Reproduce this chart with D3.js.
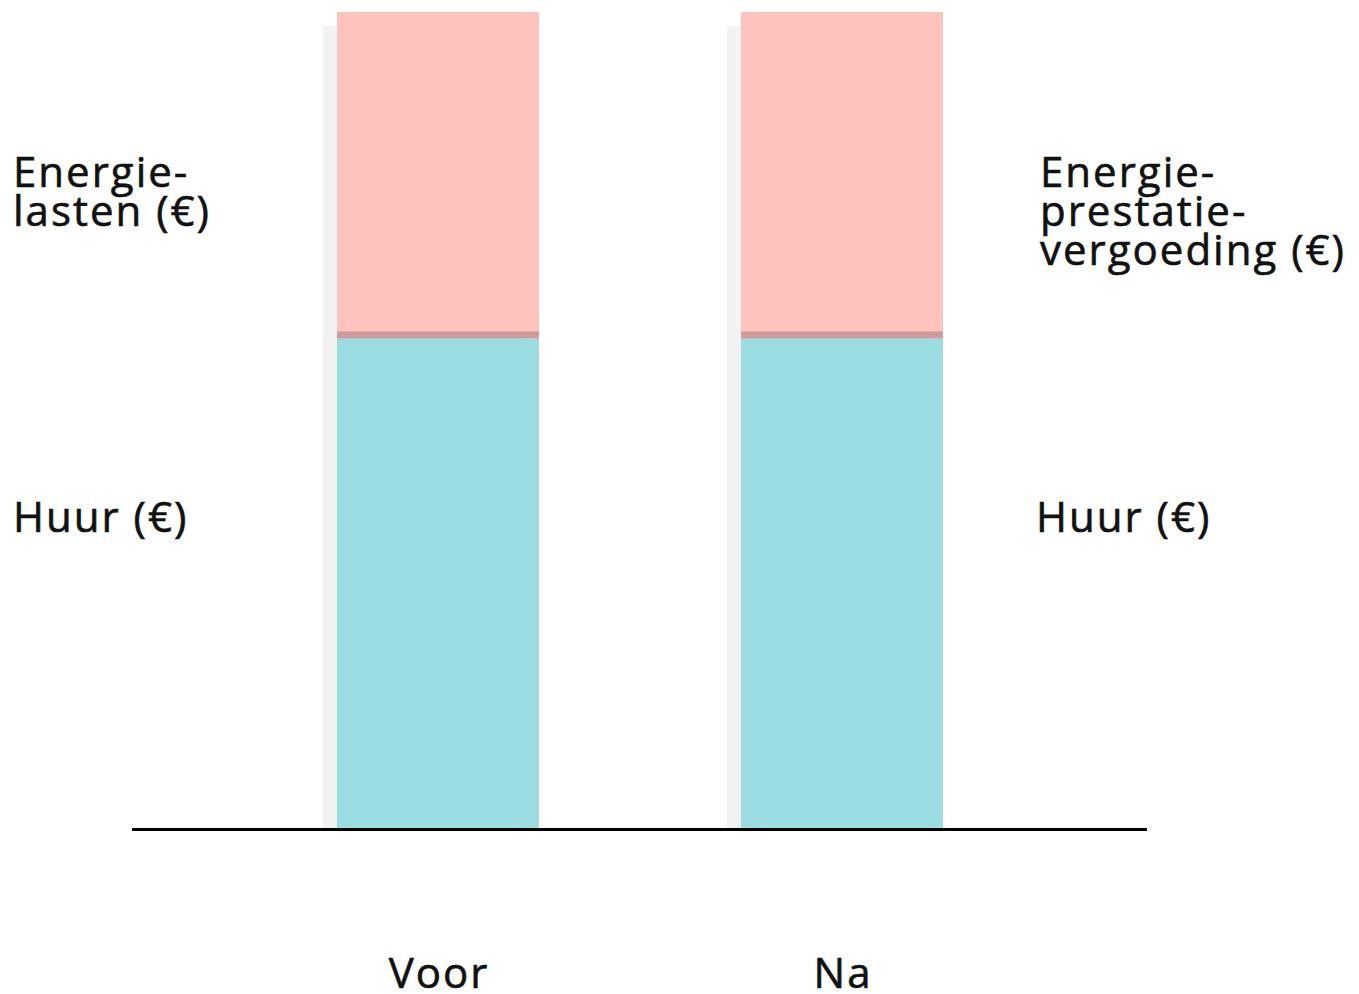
<!DOCTYPE html>
<html>
<head>
<meta charset="utf-8">
<script src="https://cdn.jsdelivr.net/npm/d3@7"></script>
<style>
  html, body { margin: 0; padding: 0; background: #fff; }
  svg { display: block; }
  text { font-family: "Open Sans", Lato, sans-serif; fill: #111; stroke: #111; stroke-width: 0.6px; letter-spacing: 2px; }
</style>
</head>
<body>
<div id="chart"></div>
<script>
// stacked bars: rent below, energy on top
const categories = ['Voor', 'Na'];
const huur = [60, 60];
const energie = [40, 40];
const leftLabels = [['Energie-', 'lasten (€)'], ['Huur (€)']];
const rightLabels = [['Energie-', 'prestatie-', 'vergoeding (€)'], ['Huur (€)']];

const W = 1359, H = 994;
const svg = d3.select('#chart').append('svg').attr('width', W).attr('height', H);

// bar centres and width
const xPos = d3.scalePoint().domain(categories).range([438, 842]);
const barW = 202;
const y = d3.scaleLinear().domain([0, 100]).range([828, 12]);

const data = categories.map((c, i) => ({ cat: c, huur: huur[i], energie: energie[i] }));

const bar = svg.append('g').selectAll('g.bar').data(data).join('g').attr('class', 'bar')
  .attr('transform', d => 'translate(' + (xPos(d.cat) - barW / 2) + ',0)');

// soft shadow behind each bar
bar.append('rect')
  .attr('x', -14).attr('y', d => y(d.huur + d.energie) + 14)
  .attr('width', barW).attr('height', d => y(0) - y(d.huur + d.energie) - 14)
  .attr('fill', '#f2f2f2');

bar.append('rect')
  .attr('x', 0).attr('y', d => y(d.huur))
  .attr('width', barW).attr('height', d => y(0) - y(d.huur))
  .attr('fill', '#9cdde2');

bar.append('rect')
  .attr('x', 0).attr('y', d => y(d.huur + d.energie))
  .attr('width', barW).attr('height', d => y(d.huur) - y(d.huur + d.energie))
  .attr('fill', '#fec2bf');

// darker seam where the two segments meet
bar.append('rect')
  .attr('x', 0).attr('y', d => y(d.huur) - 7)
  .attr('width', barW).attr('height', 7)
  .attr('fill', '#cc9b9b');

// baseline
svg.append('line')
  .attr('x1', 132).attr('x2', 1147)
  .attr('y1', y(0) + 1.5).attr('y2', y(0) + 1.5)
  .attr('stroke', '#000').attr('stroke-width', 3);

// category labels
svg.selectAll('text.cat').data(categories).join('text').attr('class', 'cat')
  .attr('x', d => xPos(d) + 1).attr('y', 988)
  .attr('text-anchor', 'middle').style('font-size', '42px')
  .text(d => d);

function block(lines, xx, yy) {
  const t = svg.append('text').attr('x', xx).attr('y', yy).style('font-size', '42px');
  lines.forEach((l, i) => t.append('tspan').attr('x', xx).attr('dy', i ? 39 : 0).text(l));
}
block(leftLabels[0], 13, 187);
block(leftLabels[1], 13, 532);
block(rightLabels[0], 1040, 187);
block(rightLabels[1], 1036, 532);
</script>
</body>
</html>
